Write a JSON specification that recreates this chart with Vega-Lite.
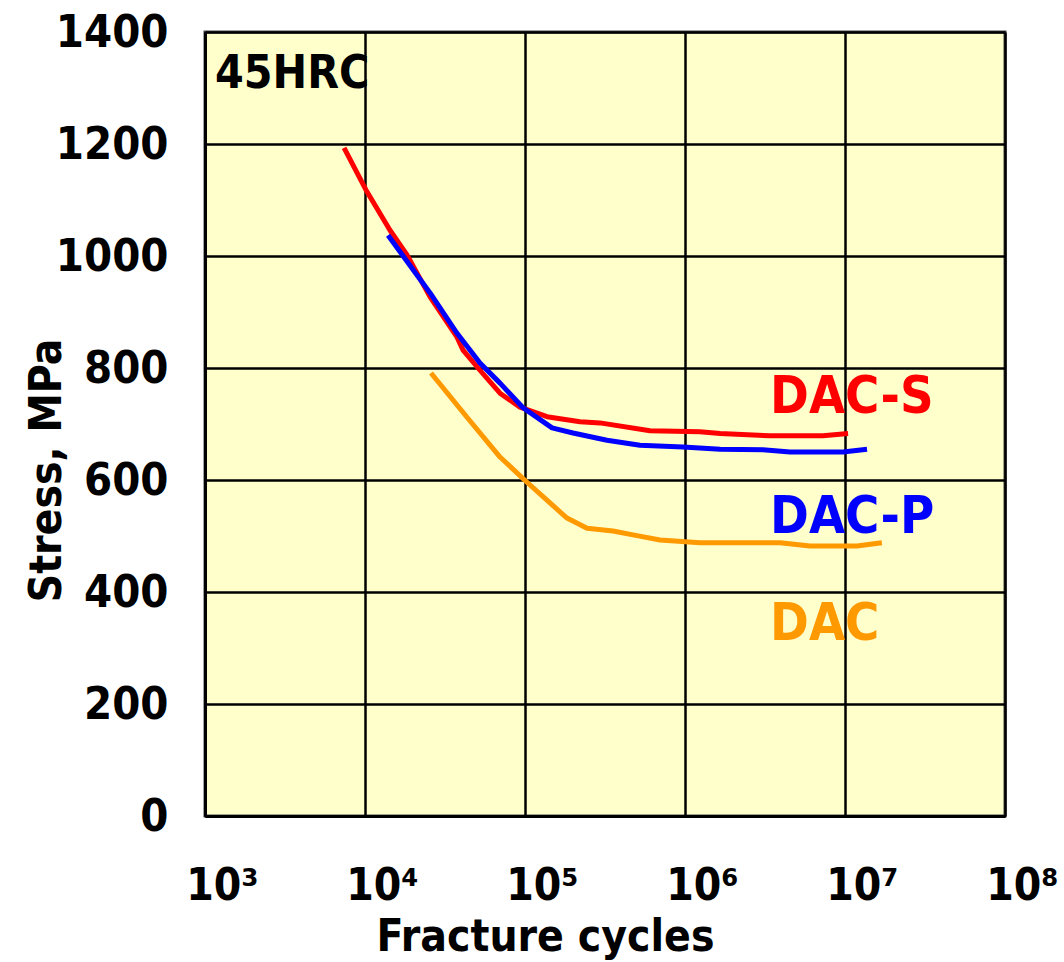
{
  "$schema": "https://vega.github.io/schema/vega-lite/v6.json",
  "width": 800,
  "height": 784,
  "autosize": {"type": "none"},
  "padding": {"left": 205, "top": 32, "right": 59, "bottom": 146},
  "background": "white",
  "config": {
    "view": {"fill": "#FFFFCC", "stroke": "#444", "strokeWidth": 3},
    "font": "DejaVu Sans Condensed, DejaVu Sans"
  },
  "datasets": {
    "curves": [
      {"series": "DAC-S", "N": 7400, "stress": 1193},
      {"series": "DAC-S", "N": 10140, "stress": 1118},
      {"series": "DAC-S", "N": 14330, "stress": 1046},
      {"series": "DAC-S", "N": 18300, "stress": 1002},
      {"series": "DAC-S", "N": 25500, "stress": 927},
      {"series": "DAC-S", "N": 37600, "stress": 855},
      {"series": "DAC-S", "N": 41000, "stress": 832},
      {"series": "DAC-S", "N": 52300, "stress": 796},
      {"series": "DAC-S", "N": 69800, "stress": 755},
      {"series": "DAC-S", "N": 93000, "stress": 730},
      {"series": "DAC-S", "N": 137300, "stress": 713},
      {"series": "DAC-S", "N": 220800, "stress": 704},
      {"series": "DAC-S", "N": 294400, "stress": 702},
      {"series": "DAC-S", "N": 604000, "stress": 688},
      {"series": "DAC-S", "N": 1240000, "stress": 686},
      {"series": "DAC-S", "N": 1660000, "stress": 683},
      {"series": "DAC-S", "N": 3400000, "stress": 679},
      {"series": "DAC-S", "N": 7290000, "stress": 679},
      {"series": "DAC-S", "N": 10450000, "stress": 683},
      {"series": "DAC-P", "N": 13930, "stress": 1037},
      {"series": "DAC-P", "N": 25500, "stress": 934},
      {"series": "DAC-P", "N": 37600, "stress": 862},
      {"series": "DAC-P", "N": 52300, "stress": 809},
      {"series": "DAC-P", "N": 69800, "stress": 773},
      {"series": "DAC-P", "N": 97200, "stress": 729},
      {"series": "DAC-P", "N": 147600, "stress": 693},
      {"series": "DAC-P", "N": 199500, "stress": 684},
      {"series": "DAC-P", "N": 325500, "stress": 671},
      {"series": "DAC-P", "N": 523000, "stress": 662},
      {"series": "DAC-P", "N": 972000, "stress": 659},
      {"series": "DAC-P", "N": 1660000, "stress": 655},
      {"series": "DAC-P", "N": 3070000, "stress": 654},
      {"series": "DAC-P", "N": 4530000, "stress": 650},
      {"series": "DAC-P", "N": 9720000, "stress": 650},
      {"series": "DAC-P", "N": 13730000, "stress": 655},
      {"series": "DAC", "N": 25850, "stress": 791},
      {"series": "DAC", "N": 43400, "stress": 712},
      {"series": "DAC", "N": 69800, "stress": 641},
      {"series": "DAC", "N": 102900, "stress": 596},
      {"series": "DAC", "N": 143300, "stress": 559},
      {"series": "DAC", "N": 183000, "stress": 532},
      {"series": "DAC", "N": 244100, "stress": 514},
      {"series": "DAC", "N": 354800, "stress": 509},
      {"series": "DAC", "N": 473200, "stress": 502},
      {"series": "DAC", "N": 698000, "stress": 493},
      {"series": "DAC", "N": 1240000, "stress": 488},
      {"series": "DAC", "N": 3930000, "stress": 488},
      {"series": "DAC", "N": 6040000, "stress": 482},
      {"series": "DAC", "N": 11900000, "stress": 482},
      {"series": "DAC", "N": 17000000, "stress": 488}
    ],
    "labels": [
      {"series": "DAC-S", "N": 3400000, "stress": 720, "text": "DAC-S"},
      {"series": "DAC-P", "N": 3400000, "stress": 505, "text": "DAC-P"},
      {"series": "DAC", "N": 3400000, "stress": 314, "text": "DAC"}
    ],
    "note": [
      {"N": 1155, "stress": 1300, "text": "45HRC"}
    ]
  },
  "encoding": {
    "x": {
      "field": "N",
      "type": "quantitative",
      "scale": {"type": "log", "domain": [1000, 100000000]},
      "axis": {
        "values": [1000, 10000, 100000, 1000000, 10000000, 100000000],
        "labelExpr": "'10' + ['³','⁴','⁵','⁶','⁷','⁸'][round(log(datum.value)/LN10) - 3]",
        "title": "Fracture cycles",
        "titleFontSize": 44,
        "titleFontWeight": "bold",
        "titleColor": "black",
        "titleX": 340,
        "titleY": 134,
        "titleBaseline": "alphabetic",
        "titleAlign": "center",
        "labelFontSize": 44,
        "labelFontWeight": "bold",
        "labelColor": "black",
        "labelBaseline": "alphabetic",
        "labelPadding": 83,
        "labelOffset": 17,
        "labelOverlap": false,
        "labelBound": false,
        "labelFlush": false,
        "ticks": false,
        "tickSize": 0,
        "domainColor": "black",
        "domainWidth": 3,
        "grid": true,
        "gridColor": "black",
        "gridWidth": 2.5,
        "gridOpacity": 1
      }
    },
    "y": {
      "field": "stress",
      "type": "quantitative",
      "scale": {"domain": [0, 1400], "nice": false},
      "axis": {
        "values": [0, 200, 400, 600, 800, 1000, 1200, 1400],
        "format": "d",
        "title": "Stress, MPa",
        "titleFontSize": 44,
        "titleFontWeight": "bold",
        "titleColor": "black",
        "titleX": -145,
        "titleY": 438,
        "titleBaseline": "alphabetic",
        "titleAlign": "center",
        "labelFontSize": 45,
        "labelFontWeight": "bold",
        "labelColor": "black",
        "labelPadding": 37,
        "labelOverlap": false,
        "labelBound": false,
        "labelFlush": false,
        "ticks": false,
        "tickSize": 0,
        "domainColor": "black",
        "domainWidth": 3,
        "grid": true,
        "gridColor": "black",
        "gridWidth": 2.5,
        "gridOpacity": 1
      }
    }
  },
  "layer": [
    {
      "data": {"name": "curves"},
      "mark": {"type": "line", "strokeWidth": 5, "strokeJoin": "round", "clip": true},
      "encoding": {
        "color": {
          "field": "series",
          "type": "nominal",
          "scale": {"domain": ["DAC-S", "DAC-P", "DAC"], "range": ["#FF0000", "#0000FF", "#FF9900"]},
          "legend": null
        }
      }
    },
    {
      "data": {"name": "labels"},
      "mark": {"type": "text", "fontSize": 52, "fontWeight": "bold", "align": "left", "baseline": "alphabetic"},
      "encoding": {
        "text": {"field": "text"},
        "color": {
          "field": "series",
          "type": "nominal",
          "scale": {"domain": ["DAC-S", "DAC-P", "DAC"], "range": ["#FF0000", "#0000FF", "#FF9900"]},
          "legend": null
        }
      }
    },
    {
      "data": {"name": "note"},
      "mark": {"type": "text", "fontSize": 46, "fontWeight": "bold", "align": "left", "baseline": "alphabetic", "color": "black"},
      "encoding": {
        "text": {"field": "text"}
      }
    }
  ]
}
